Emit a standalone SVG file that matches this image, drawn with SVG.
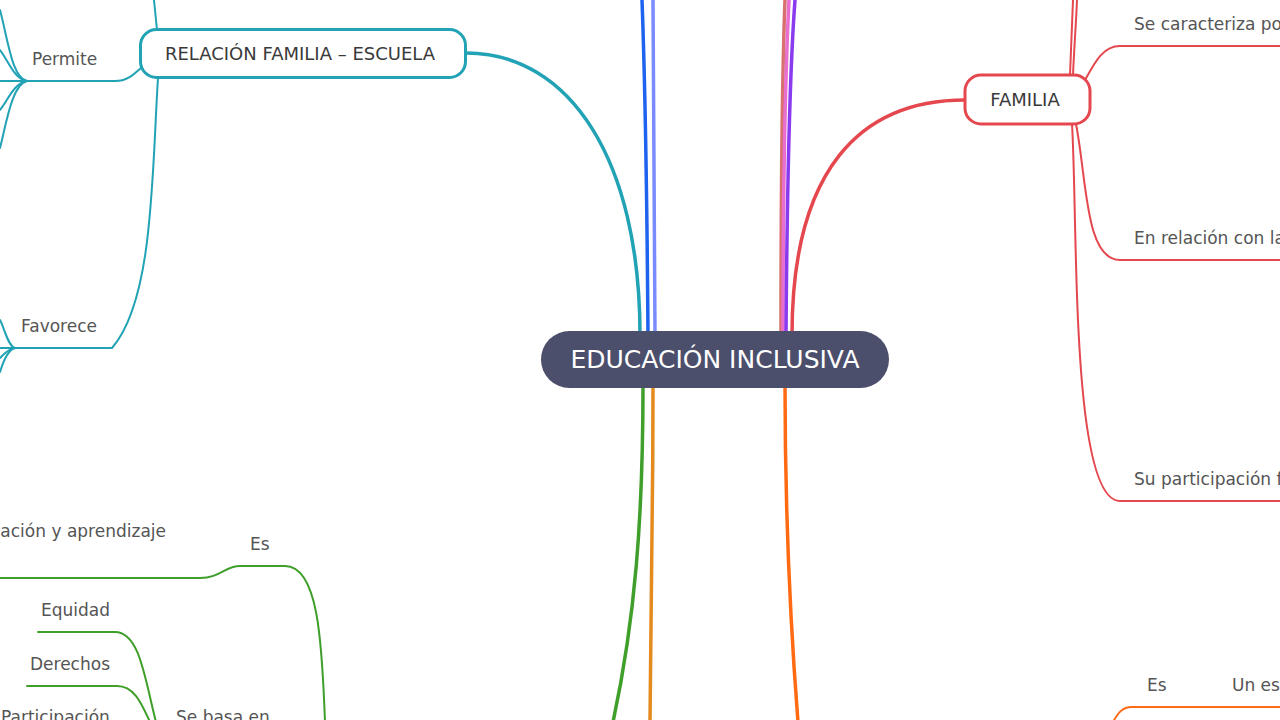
<svg xmlns="http://www.w3.org/2000/svg" width="1280" height="720" viewBox="0 0 1280 720">
<style>
text{font-family:"DejaVu Sans","Liberation Sans",sans-serif}
.lbl{font-size:17px;fill:#555555}
.ntx{font-size:18px;fill:#3a3a3a}
.c{fill:none;stroke-linecap:round}
.main{stroke-width:3.5}
.sub{stroke-width:2}
.teal{stroke:#22a2b5}
.red{stroke:#e5474f}
.green{stroke:#3f9f2a}
.oran{stroke:#e48b1f}
.ored{stroke:#ff6a13}
</style>
<rect width="1280" height="720" fill="#ffffff"/>
<g id="connectors">
  <path class="c main teal" d="M640,335 C640,160 570,53 466,53"/>
  <path class="c main" stroke="#1e62f0" d="M648,335 C647,200 645,80 642,0"/>
  <path class="c main" stroke="#7a8bff" d="M655,335 C655,200 654,80 653,0"/>
  <path class="c main" stroke="#d97070" d="M781,335 C781,200 782,80 785,0"/>
  <path class="c main" stroke="#e86fd0" d="M783,335 C783,200 785,80 789,0"/>
  <path class="c main" stroke="#8a3bf0" d="M786,335 C787,200 789,80 795,0"/>
  <path class="c main red" d="M792,335 C792,170 860,100 965,100"/>
  <path class="c main green" d="M643,385 C643,520 635,620 613,722"/>
  <path class="c main oran" d="M653,385 C653,500 651,620 650,722"/>
  <path class="c main ored" d="M785,385 C785,520 790,620 798,722"/>
  <path class="c sub teal" d="M157,30 L154,0"/>
  <path class="c sub teal" d="M142,67 C135,73 128,81 115,81 L27,81"/>
  <path class="c sub teal" d="M27,81 C12,78 8,40 0,10"/>
  <path class="c sub teal" d="M27,81 C14,79 8,60 0,50"/>
  <path class="c sub teal" d="M27,81 L0,81"/>
  <path class="c sub teal" d="M27,81 C14,83 8,100 0,110"/>
  <path class="c sub teal" d="M27,81 C12,84 6,125 0,148"/>
  <path class="c sub teal" d="M158,78 C152,170 154,300 112,348 L15,348"/>
  <path class="c sub teal" d="M15,348 C8,346 5,330 0,320"/>
  <path class="c sub teal" d="M15,348 L0,348"/>
  <path class="c sub teal" d="M15,348 C8,349 4,354 0,358"/>
  <path class="c sub teal" d="M15,348 C8,350 3,362 0,372"/>
  <path class="c sub red" d="M1070,75 C1071,50 1072,25 1073,0"/>
  <path class="c sub red" d="M1073,75 C1074,50 1076,25 1077,0"/>
  <path class="c sub red" d="M1085,80 C1095,62 1103,46 1120,46 L1282,46"/>
  <path class="c sub red" d="M1076,124 C1087,180 1085,260 1120,260 L1282,260"/>
  <path class="c sub red" d="M1072,124 C1078,220 1070,501 1120,501 L1282,501"/>
  <path class="c sub green" d="M325,722 C322,640 318,566 285,566 L240,566 C225,566 220,578 200,578 L0,578"/>
  <path class="c sub green" d="M38,632 L115,632 C140,632 145,680 156,722"/>
  <path class="c sub green" d="M27,686 L117,686 C135,686 142,705 150,722"/>
  <path class="c sub ored" d="M1113,722 C1118,713 1122,707 1132,707 L1282,707"/>
</g>
<g id="node-center">
  <rect x="541" y="331" width="348" height="57" rx="28.5" fill="#4b4f6b"/>
  <text x="715" y="368" text-anchor="middle" font-size="25" fill="#ffffff">EDUCACIÓN INCLUSIVA</text>
</g>
<g id="node-relacion">
  <rect x="140.5" y="29.5" width="325" height="48" rx="16" fill="#ffffff" stroke="#22a2b5" stroke-width="3"/>
  <text class="ntx" x="300" y="60" text-anchor="middle">RELACIÓN FAMILIA – ESCUELA</text>
</g>
<g id="node-familia">
  <rect x="965" y="75" width="125" height="49" rx="16" fill="#ffffff" stroke="#e5474f" stroke-width="3"/>
  <text class="ntx" x="1025" y="106" text-anchor="middle">FAMILIA</text>
</g>
<g id="labels-teal">
  <text class="lbl" x="32" y="65">Permite</text>
  <text class="lbl" x="21" y="332">Favorece</text>
</g>
<g id="labels-red">
  <text class="lbl" x="1134" y="30">Se caracteriza por</text>
  <text class="lbl" x="1134" y="244">En relación con la</text>
  <text class="lbl" x="1134" y="485">Su participación f</text>
</g>
<g id="labels-green">
  <text class="lbl" x="166" y="537" text-anchor="end">ación y aprendizaje</text>
  <text class="lbl" x="250" y="550">Es</text>
  <text class="lbl" x="41" y="616">Equidad</text>
  <text class="lbl" x="30" y="670">Derechos</text>
  <text class="lbl" x="1" y="723">Participación</text>
  <text class="lbl" x="176" y="723">Se basa en</text>
</g>
<g id="labels-ored">
  <text class="lbl" x="1147" y="691">Es</text>
  <text class="lbl" x="1232" y="691">Un es</text>
</g>
</svg>
